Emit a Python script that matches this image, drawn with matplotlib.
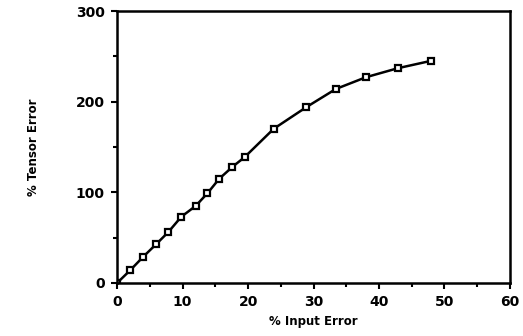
import matplotlib
matplotlib.use("Agg")
import matplotlib.pyplot as plt
from matplotlib.ticker import MultipleLocator

# values
input_err = [0, 2.0, 4.0, 6.0, 7.8, 9.8, 12.0, 13.8, 15.6, 17.6, 19.5,
             23.9, 28.9, 33.4, 38.0, 42.9, 47.9]
tensor_err = [0, 14, 29, 43, 56, 73, 85, 99, 115, 128, 139,
              170, 194, 214, 227, 237, 245]

plt.rcParams['font.family'] = ['DejaVu Sans']

fig = plt.figure(figsize=(5.23, 3.36), dpi=100)
ax = fig.add_axes([0.224, 0.158, 0.751, 0.809])

ax.plot(input_err, tensor_err, color="black", lw=1.8,
        marker="s", ms=4.5, mfc="white", mec="black", mew=1.6)

ax.set_xlim(0, 60)
ax.set_ylim(0, 300)
ax.xaxis.set_major_locator(MultipleLocator(10))
ax.xaxis.set_minor_locator(MultipleLocator(5))
ax.yaxis.set_major_locator(MultipleLocator(100))
ax.yaxis.set_minor_locator(MultipleLocator(50))
ax.tick_params(which="major", direction="out", length=4, width=1.5,
               labelsize=10, pad=5)
ax.tick_params(which="minor", direction="out", length=3, width=1.5)
for lab in ax.get_xticklabels() + ax.get_yticklabels():
    lab.set_fontweight("bold")

for s in ax.spines.values():
    s.set_linewidth(1.8)

ax.set_xlabel("% Input Error", fontsize=8.5, fontweight="bold", labelpad=4)
ax.set_ylabel("% Tensor Error", fontsize=8.5, fontweight="bold", labelpad=26)

fig.savefig("out.png", dpi=100)
